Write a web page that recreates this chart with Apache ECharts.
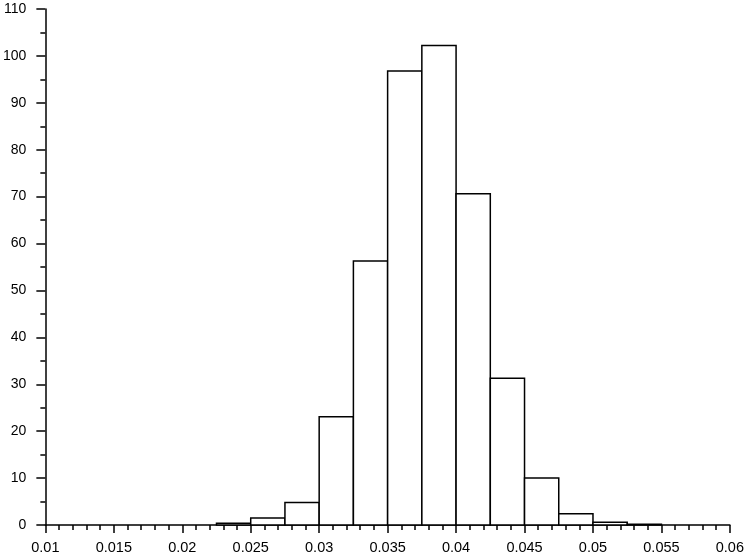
<!DOCTYPE html>
<html>
<head>
<meta charset="utf-8">
<script src="https://cdn.jsdelivr.net/npm/echarts@6/dist/echarts.min.js"></script>
<style>html,body{margin:0;padding:0;background:#fff}#c{width:747px;height:558px}</style>
</head>
<body>
<div id="c"></div>
<script>
var binStarts = [0.0225, 0.025, 0.0275, 0.03, 0.0325, 0.035, 0.0375, 0.04, 0.0425, 0.045, 0.0475, 0.05, 0.0525];
var binEnds   = [0.025, 0.0275, 0.03, 0.0325, 0.035, 0.0375, 0.04, 0.0425, 0.045, 0.0475, 0.05, 0.0525, 0.055];
var counts    = [0.35, 1.5, 4.8, 23.1, 56.3, 96.8, 102.2, 70.6, 31.3, 10.0, 2.4, 0.6, 0.15];

var data = binStarts.map(function (s, i) { return [s, binEnds[i], counts[i]]; });
var chart = echarts.init(document.getElementById('c'));
var font = 'Liberation Sans, Arial, sans-serif';
chart.setOption({
  animation: false,
  grid: { left: 45, right: 14, top: 9, bottom: 33 },
  xAxis: {
    type: 'value', min: 0.01, max: 0.06, interval: 0.005,
    axisLine: { lineStyle: { color: '#000', width: 1.5 } },
    axisTick: { length: 8, lineStyle: { color: '#000', width: 1.5 } },
    minorTick: { show: true, splitNumber: 5, length: 5, lineStyle: { color: '#000', width: 1.5 } },
    splitLine: { show: false },
    axisLabel: { color: '#000', fontSize: 14.5, fontFamily: font, margin: 15,
      formatter: function (v) { return String(Math.round(v * 1000) / 1000); } }
  },
  yAxis: {
    type: 'value', min: 0, max: 110, interval: 10,
    axisLine: { show: true, lineStyle: { color: '#000', width: 1.5 } },
    axisTick: { show: true, length: 9, lineStyle: { color: '#000', width: 1.5 } },
    minorTick: { show: true, splitNumber: 2, length: 5, lineStyle: { color: '#000', width: 1.5 } },
    splitLine: { show: false },
    axisLabel: { color: '#000', fontSize: 14, fontFamily: font, margin: 19 }
  },
  series: [{
    type: 'custom',
    data: data,
    encode: { x: [0, 1], y: 2 },
    renderItem: function (params, api) {
      var p0 = api.coord([api.value(0), api.value(2)]);
      var p1 = api.coord([api.value(1), 0]);
      return {
        type: 'rect',
        shape: { x: p0[0], y: p0[1], width: p1[0] - p0[0], height: p1[1] - p0[1] },
        style: { fill: '#fff', stroke: '#000', lineWidth: 1.5 }
      };
    }
  }]
});
</script>
</body>
</html>
